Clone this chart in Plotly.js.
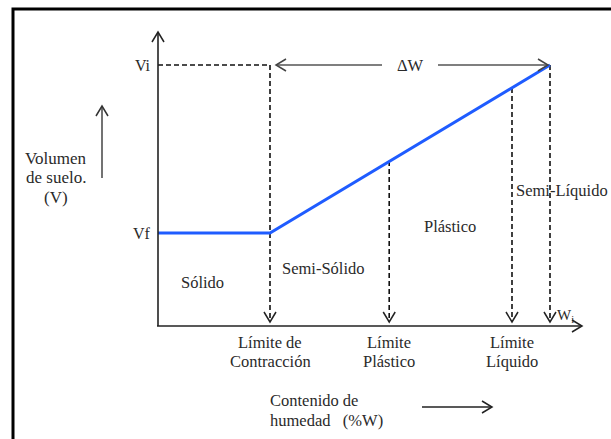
<!DOCTYPE html>
<html><head><meta charset="utf-8">
<script src="https://cdn.plot.ly/plotly-3.0.1.min.js"></script>
<style>html,body{margin:0;padding:0;background:#fff;}#chart{width:611px;height:439px;}</style>
</head><body><div id="chart"></div>
<script>
// ---- Data (diagram units: moisture W, volume V) ----
const limitNames = [["Límite de", "Contracción"], ["Límite", "Plástico"], ["Límite", "Líquido"], ["W<sub>i</sub>"]];
const limitW = [28.0, 57.8, 88.5, 98.0];       // moisture at each limit
const limitTopV = [100, 63.2, 91.2, 100];      // volume where each dashed guide starts
const curveW = [0, 28.0, 98.0];                // soil volume curve
const curveV = [35.6, 35.6, 100];
const volLabels = ["Vi", "Vf"];
const volValues = [100, 35.6];
const stateNames = ["Sólido", "Semi-Sólido", "Plástico", "Semi-Líquido"];

// ---- Layout scale (pixels) ----
const W = 611, H = 439;
const X0 = 158, Y0 = 326, SX = 4, SY = 2.61;
const px2x = p => (p - X0) / SX;
const py2y = p => (Y0 - p) / SY;
const x2px = x => X0 + x * SX;
const y2py = y => Y0 - y * SY;

const FONT = "Liberation Serif";
const TXT = "#2a2a2a";
const FS = 16.5;

function chevron(tx, ty, dir, color, width) {
  const L = 10, Hh = 6;
  let a, b;
  if (dir === "up") { a = [tx - Hh, ty + L]; b = [tx + Hh, ty + L]; }
  if (dir === "down") { a = [tx - Hh, ty - L]; b = [tx + Hh, ty - L]; }
  if (dir === "left") { a = [tx + L, ty - Hh]; b = [tx + L, ty + Hh]; }
  if (dir === "right") { a = [tx - L, ty - Hh]; b = [tx - L, ty + Hh]; }
  return {type: "path", xref: "x", yref: "y",
    path: `M${px2x(a[0])},${py2y(a[1])} L${px2x(tx)},${py2y(ty)} L${px2x(b[0])},${py2y(b[1])}`,
    line: {color: color || "#111", width: width || 1.5}};
}
function seg(x0, y0, x1, y1, color, width, dash) {
  return {type: "line", xref: "x", yref: "y", x0: px2x(x0), y0: py2y(y0), x1: px2x(x1), y1: py2y(y1),
    line: {color: color, width: width, dash: dash || "solid"}};
}

const traces = [];
const DASH = "5px,3px";
const tipGap = 4; // px between arrow tip and x axis
// Vi horizontal guide
traces.push({x: [0, limitW[0]], y: [volValues[0], volValues[0]], mode: "lines",
  line: {color: "#111", width: 1.6, dash: DASH}, hoverinfo: "skip"});
// vertical guides
limitW.forEach((w, i) => {
  traces.push({x: [w, w], y: [limitTopV[i], py2y(Y0 - tipGap)], mode: "lines",
    line: {color: "#111", width: 1.6, dash: DASH}, hoverinfo: "skip"});
});
// volume curve
traces.push({x: curveW, y: curveV, mode: "lines", line: {color: "#1f5cff", width: 3}, hoverinfo: "skip"});

const shapes = [];
// border
shapes.push({type: "rect", xref: "x", yref: "y", x0: px2x(13), y0: py2y(9), x1: px2x(640), y1: py2y(470),
  line: {color: "#000", width: 3}});
// axes
shapes.push(seg(158, 326, 158, 33, "#222", 1.6));
shapes.push(chevron(158, 32, "up", "#222"));
shapes.push(seg(157, 326, 581, 326, "#222", 1.6));
shapes.push(chevron(582, 326, "right", "#222"));
// arrows at bottom of guides
limitW.forEach(w => shapes.push(chevron(x2px(w), Y0 - tipGap, "down", "#222")));
// delta W arrows
const yVi = y2py(volValues[0]);
shapes.push(seg(276, yVi, 382, yVi, "#555", 1.5));
shapes.push(chevron(276, yVi, "left", "#444"));
shapes.push(seg(438, yVi, 547, yVi, "#555", 1.5));
shapes.push(chevron(548, yVi, "right", "#444"));
// volume arrow (left)
shapes.push(seg(102, 178, 102, 107, "#444", 1.5));
shapes.push(chevron(102, 106, "up", "#333"));
// moisture arrow (bottom)
shapes.push(seg(422, 407, 491, 407, "#222", 1.5));
shapes.push(chevron(492, 407, "right", "#222"));

const ann = [];
function txt(text, px, py, size, xanchor) {
  ann.push({text: text, x: px2x(px), y: py2y(py), xref: "x", yref: "y", showarrow: false,
    xanchor: xanchor || "center", yanchor: "middle", font: {family: FONT, size: size || FS, color: TXT}});
}
// volume labels
volLabels.forEach((t, i) => {
  ann.push({text: t, x: 0, y: volValues[i], xref: "x", yref: "y", xshift: -5, showarrow: false,
    xanchor: "right", yanchor: "middle", font: {family: FONT, size: 16, color: TXT}});
});
txt("ΔW", 410, 65, FS);
["Volumen", "de suelo.", "(V)"].forEach((t, i) => txt(t, 56, 158 + i * 19.5, 17));
// state labels
txt(stateNames[0], 202, 282);
txt(stateNames[1], 323, 268);
txt(stateNames[2], 450, 226);
txt(stateNames[3], 562, 190);
// limit labels under axis
limitNames.slice(0, 3).forEach((lines, i) => {
  lines.forEach((t, j) => {
    ann.push({text: t, x: limitW[i], y: py2y(342 + j * 19.5), xref: "x", yref: "y", showarrow: false,
      xanchor: "center", yanchor: "middle", font: {family: FONT, size: FS, color: TXT}});
  });
});
ann.push({text: limitNames[3][0], x: limitW[3], y: py2y(316), xref: "x", yref: "y", xshift: 5, showarrow: false,
  xanchor: "left", yanchor: "middle", font: {family: FONT, size: 15, color: TXT}});
txt("Contenido de", 268, 400, FS, "left");
txt("humedad\u00a0\u00a0\u00a0(%W)", 268, 420, FS, "left");

const layout = {
  width: W, height: H, autosize: false,
  margin: {l: 0, r: 0, t: 0, b: 0, pad: 0},
  paper_bgcolor: "#fff", plot_bgcolor: "#fff",
  showlegend: false,
  xaxis: {range: [px2x(0), px2x(W)], visible: false, fixedrange: true},
  yaxis: {range: [py2y(H), py2y(0)], visible: false, fixedrange: true},
  shapes: shapes, annotations: ann
};
Plotly.newPlot("chart", traces, layout, {staticPlot: true, displayModeBar: false});
</script></body></html>
